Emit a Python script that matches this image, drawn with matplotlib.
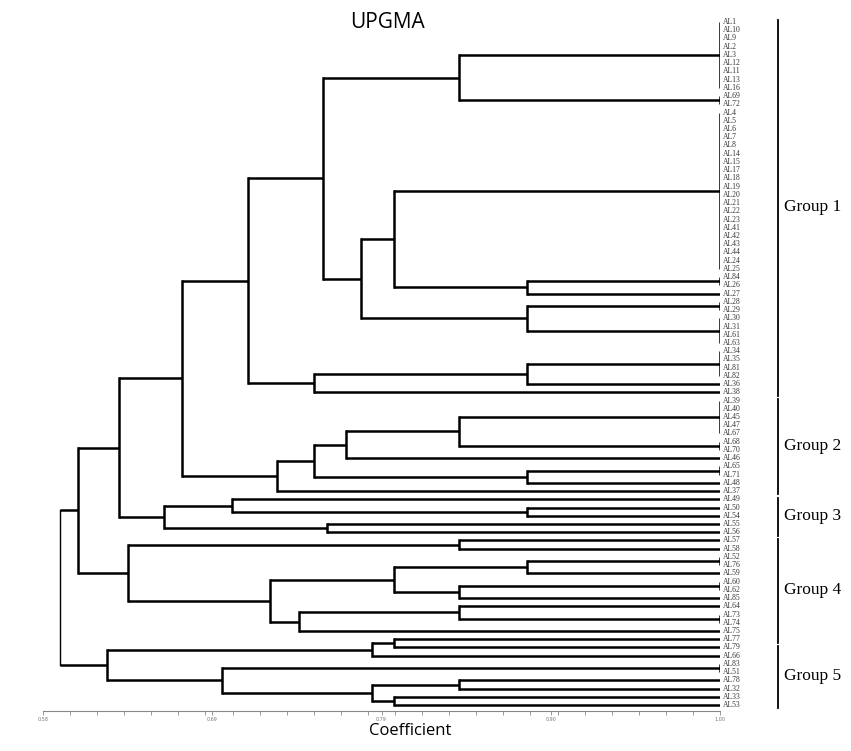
import matplotlib.pyplot as plt
import numpy as np

# leaf labels, top to bottom
leaf_numbers = [1, 10, 9, 2, 3, 12, 11, 13, 16, 69, 72,
                4, 5, 6, 7, 8, 14, 15, 17, 18, 19, 20, 21, 22, 23, 41, 42, 43, 44, 24, 25,
                84, 26, 27,
                28, 29, 30, 31, 61, 63,
                34, 35, 81, 82, 36, 38,
                39, 40, 45, 47, 67, 68, 70, 46, 65, 71, 48, 37,
                49, 50, 54, 55, 56,
                57, 58, 52, 76, 59, 60, 62, 85, 64, 73, 74, 75,
                77, 79, 66, 83, 51, 78, 32, 33, 53]
leaf_labels = ['AL%d' % n for n in leaf_numbers]

# groups of identical leaves (similarity 1.00): name, first leaf, last leaf
clusters = [("c0", 0, 8), ("c1", 9, 10), ("c2", 11, 30), ("c3", 31, 32),
            ("c4a", 34, 35), ("c4b", 36, 39), ("c5", 40, 43),
            ("c6a", 46, 50), ("c6b", 51, 52), ("c7", 54, 55),
            ("c9", 65, 66), ("c10", 68, 69), ("c11", 72, 73), ("c13", 78, 79)]

# merges: name, upper child, lower child, coefficient
merges = [("E", "c0", "c1", 0.838), ("A", "c3", 33, 0.880), ("B", "c2", "A", 0.798),
          ("C", "c4a", "c4b", 0.880), ("D", "B", "C", 0.777), ("F", "E", "D", 0.754),
          ("G", "c5", 44, 0.880), ("H", "G", 45, 0.748), ("I", "F", "H", 0.707),
          ("J", "c6a", "c6b", 0.838), ("K", "J", 53, 0.768), ("L", "c7", 56, 0.880),
          ("H2", "K", "L", 0.748), ("M", "H2", 57, 0.725), ("N", "I", "M", 0.666),
          ("P", 59, 60, 0.880), ("O", 58, "P", 0.697), ("Q", 61, 62, 0.756),
          ("R", "O", "Q", 0.655), ("S", "N", "R", 0.627),
          ("T", 63, 64, 0.838), ("U", "c9", 67, 0.880), ("V", "c10", 70, 0.838),
          ("W", "U", "V", 0.798), ("X", 71, "c11", 0.838), ("Y", "X", 74, 0.739),
          ("Z", "W", "Y", 0.721), ("AA", "T", "Z", 0.633), ("AB", "S", "AA", 0.602),
          ("AD", 75, 76, 0.798), ("AE", "AD", 77, 0.784), ("AF", 80, 81, 0.838),
          ("AG", 82, 83, 0.798), ("AH", "AF", "AG", 0.784), ("AI", "c13", "AH", 0.691),
          ("AJ", "AE", "AI", 0.620),
          ("ROOT", "AB", "AJ", 0.5905)]

groups = ["Group 1", "Group 2", "Group 3", "Group 4", "Group 5"]
group_spans = [(0, 45), (46, 57), (58, 62), (63, 75), (76, 83)]

tick_values = np.linspace(0.58, 1.00, 5)
tick_labels = ['0.58', '0.69', '0.79', '0.90', '1.00']

fig = plt.figure(figsize=(8.51, 7.51), dpi=100)
ax = fig.add_axes([43 / 851, 40 / 751, 677 / 851, 701 / 751])

ypos = {}
xpos = {}
for i in range(len(leaf_labels)):
    ypos[i] = i
    xpos[i] = 1.0
lw = 1.8
for name, a, b in clusters:
    ypos[name] = (a + b) / 2
    xpos[name] = 1.0
    ax.plot([1.0, 1.0], [a, b], color='black', lw=lw, solid_capstyle='butt')
for name, a, b, h in merges:
    ypos[name] = (ypos[a] + ypos[b]) / 2
    xpos[name] = h
    w = 1.0 if name == "ROOT" else lw
    ax.plot([h, h], [ypos[a], ypos[b]], color='black', lw=w, solid_capstyle='projecting')
    for c in (a, b):
        ax.plot([h, xpos[c]], [ypos[c], ypos[c]], color='black', lw=lw, solid_capstyle='butt')

for i, lab in enumerate(leaf_labels):
    ax.text(1.002, i, lab, fontsize=5.5, family='Liberation Serif', va='center', ha='left',
            color='#333333', clip_on=False)

for g, (a, b) in zip(groups, group_spans):
    ax.plot([1.036, 1.036], [a - 0.2, b + 0.4], color='black', lw=1.3, clip_on=False)
    ax.text(1.040, (a + b) / 2, g, fontsize=12.5, family='Liberation Serif', va='center',
            ha='left', clip_on=False)

ax.set_xlim(0.58, 1.00)
ax.set_ylim(83.72, -1.46)
for s in ['top', 'right', 'left']:
    ax.spines[s].set_visible(False)
ax.spines['bottom'].set_color('#888888')
ax.spines['bottom'].set_linewidth(0.8)
ax.set_yticks([])
ax.set_xticks(tick_values)
ax.set_xticklabels(tick_labels, fontsize=3.5, color='#777777')
ax.set_xticks(np.linspace(0.58, 1.00, 26), minor=True)
ax.tick_params(axis='x', which='both', length=3, width=0.6, color='#888888', pad=1)

fig.text(387 / 851, 1 - 22 / 751, 'UPGMA', fontsize=15, family='Open Sans', ha='center', va='center')
fig.text(410 / 851, 1 - 731 / 751, 'Coefficient', fontsize=12, family='Open Sans', ha='center', va='center')

plt.savefig('out.png', dpi=100)
plt.close('all')
